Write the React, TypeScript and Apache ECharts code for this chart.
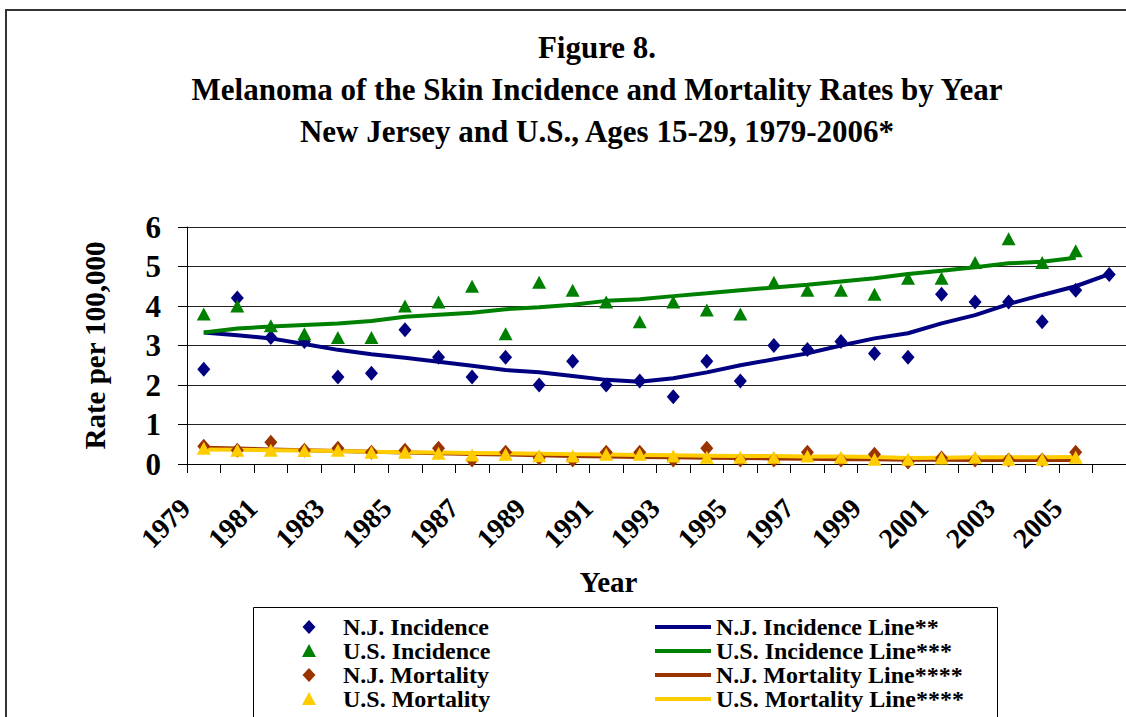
import React, { useEffect, useRef } from "react";
import * as echarts from "echarts";

const years = [
  "1979", "1980", "1981", "1982", "1983", "1984", "1985", "1986", "1987", "1988",
  "1989", "1990", "1991", "1992", "1993", "1994", "1995", "1996", "1997", "1998",
  "1999", "2000", "2001", "2002", "2003", "2004", "2005", "2006",
];

const yTicks = [0, 1, 2, 3, 4, 5, 6];

const njIncidence = [
  2.4, 4.2, 3.2, 3.1, 2.2, 2.3, 3.4, 2.7, 2.2, 2.7,
  2.0, 2.6, 2.0, 2.1, 1.7, 2.6, 2.1, 3.0, 2.9, 3.1,
  2.8, 2.7, 4.3, 4.1, 4.1, 3.6, 4.4, 4.8,
];
const usIncidence = [
  3.8, 4.0, 3.5, 3.3, 3.2, 3.2, 4.0, 4.1, 4.5, 3.3,
  4.6, 4.4, 4.1, 3.6, 4.1, 3.9, 3.8, 4.6, 4.4, 4.4,
  4.3, 4.7, 4.7, 5.1, 5.7, 5.1, 5.4, null,
];
const njMortality = [
  0.45, 0.35, 0.55, 0.35, 0.4, 0.3, 0.35, 0.4, 0.1, 0.3,
  0.15, 0.1, 0.3, 0.3, 0.1, 0.4, 0.1, 0.1, 0.3, 0.1,
  0.25, 0.05, 0.15, 0.1, 0.1, 0.1, 0.3, null,
];
const usMortality = [
  0.4, 0.35, 0.35, 0.34, 0.35, 0.3, 0.3, 0.27, 0.23, 0.25,
  0.21, 0.2, 0.25, 0.25, 0.2, 0.17, 0.17, 0.17, 0.2, 0.17,
  0.12, 0.12, 0.15, 0.17, 0.12, 0.12, 0.17, null,
];
const njIncidenceLine = [
  3.33, 3.26, 3.18, 3.04, 2.89, 2.78, 2.69, 2.59, 2.49, 2.38,
  2.32, 2.23, 2.13, 2.08, 2.17, 2.32, 2.5, 2.65, 2.8, 3.0,
  3.18, 3.31, 3.56, 3.77, 4.05, 4.28, 4.5, 4.81,
];
const usIncidenceLine = [
  3.33, 3.43, 3.48, 3.52, 3.56, 3.62, 3.73, 3.78, 3.83, 3.92,
  3.97, 4.03, 4.13, 4.17, 4.25, 4.32, 4.4, 4.47, 4.54, 4.62,
  4.7, 4.81, 4.89, 4.98, 5.08, 5.12, 5.22, null,
];
const njMortalityLine = [
  0.41, 0.39, 0.37, 0.35, 0.33, 0.31, 0.29, 0.27, 0.25, 0.24,
  0.22, 0.2, 0.19, 0.18, 0.17, 0.16, 0.15, 0.14, 0.13, 0.12,
  0.12, 0.11, 0.11, 0.1, 0.1, 0.1, 0.1, null,
];
const usMortalityLine = [
  0.37, 0.36, 0.35, 0.34, 0.33, 0.31, 0.3, 0.29, 0.28, 0.27,
  0.26, 0.25, 0.24, 0.23, 0.22, 0.21, 0.2, 0.2, 0.19, 0.19,
  0.18, 0.15, 0.16, 0.17, 0.17, 0.17, 0.18, null,
];

const titleLines = [
  "Figure 8.",
  "Melanoma of the Skin Incidence and Mortality Rates by Year",
  "New Jersey and U.S., Ages 15-29, 1979-2006*",
];

const markerLegend = ["N.J. Incidence", "U.S. Incidence", "N.J. Mortality", "U.S. Mortality"];
const lineLegend = [
  "N.J. Incidence Line**",
  "U.S. Incidence Line***",
  "N.J. Mortality Line****",
  "U.S. Mortality Line****",
];

const FONT = '"Liberation Serif", "Times New Roman", serif';
const NAVY = "#000080";
const GREEN = "#008000";
const BROWN = "#993300";
const YELLOW = "#FFCC00";
const colors = [NAVY, GREEN, BROWN, YELLOW];
const markerShapes = ["diamond", "triangle", "diamond", "triangle"];

function legendGraphics() {
  const rowY = [627, 651, 675, 699];
  const out: any[] = [];
  const textStyle = (t: string) => ({
    text: t,
    fontFamily: FONT,
    fontWeight: "bold",
    fontSize: 24,
    lineHeight: 24,
    fill: "#000",
    textVerticalAlign: "middle",
    textAlign: "left",
  });
  markerLegend.forEach((name, i) => {
    const y = rowY[i];
    const cx = 309;
    const pts =
      markerShapes[i] === "diamond"
        ? [[cx, y - 7], [cx + 6.5, y], [cx, y + 7], [cx - 6.5, y]]
        : [[cx, y - 7], [cx + 7, y + 6], [cx - 7, y + 6]];
    out.push({ type: "polygon", shape: { points: pts }, style: { fill: colors[i] }, silent: true });
    out.push({ type: "text", x: 343, y, style: textStyle(name), silent: true });
  });
  lineLegend.forEach((name, i) => {
    const y = rowY[i];
    out.push({
      type: "line",
      shape: { x1: 655, y1: y, x2: 711, y2: y },
      style: { stroke: colors[i], lineWidth: 4 },
      silent: true,
    });
    out.push({ type: "text", x: 716, y, style: textStyle(name), silent: true });
  });
  return out;
}

export default function App() {
  const ref = useRef<HTMLDivElement>(null);

  useEffect(() => {
    if (!ref.current) return;
    const chart = echarts.init(ref.current, null, { renderer: "svg" });

    const scatter = (name: string, data: any[], symbol: string, color: string, size: any, z: number) => ({
      name,
      type: "scatter",
      data,
      symbol,
      symbolSize: size,
      itemStyle: { color, opacity: 1 },
      z,
    });
    const line = (name: string, data: any[], color: string, z: number) => ({
      name,
      type: "line",
      data,
      symbol: "none",
      showSymbol: false,
      lineStyle: { color, width: 4 },
      itemStyle: { color },
      z,
    });

    chart.setOption({
      animation: false,
      backgroundColor: "#ffffff",
      textStyle: { fontFamily: FONT },
      graphic: [
        {
          type: "rect",
          shape: { x: 6, y: 10, width: 1300, height: 900 },
          style: { fill: "none", stroke: "#333", lineWidth: 2 },
          silent: true,
          z: -10,
        },
        {
          type: "rect",
          shape: { x: 253.5, y: 607.5, width: 744, height: 200 },
          style: { fill: "none", stroke: "#000", lineWidth: 1 },
          silent: true,
          z: -10,
        },
        ...titleLines.map((t, i) => ({
          type: "text",
          x: 597,
          y: 47 + i * 42,
          style: {
            text: t,
            fontFamily: FONT,
            fontWeight: "bold",
            fontSize: 31,
            fill: "#000",
            textAlign: "center",
            textVerticalAlign: "middle",
          },
        })),
        ...legendGraphics(),
      ],
      grid: { left: 187, right: -3, top: 227, bottom: 253, containLabel: false },
      xAxis: {
        type: "category",
        data: years,
        boundaryGap: true,
        name: "Year",
        nameLocation: "middle",
        nameGap: 103,
        nameTextStyle: {
          fontFamily: FONT,
          fontWeight: "bold",
          fontSize: 29,
          color: "#000",
          padding: [0, 96, 0, 0],
        },
        axisLine: { lineStyle: { color: "#000", width: 1 } },
        axisTick: { show: true, interval: 0, length: 9, lineStyle: { color: "#000" } },
        axisLabel: {
          interval: 1,
          rotate: 45,
          margin: 21,
          fontFamily: FONT,
          fontWeight: "bold",
          fontSize: 28,
          color: "#000",
          padding: [0, 26, 9, 0],
        },
        splitLine: { show: false },
      },
      yAxis: {
        type: "value",
        min: yTicks[0],
        max: yTicks[yTicks.length - 1],
        interval: 1,
        name: "Rate per 100,000",
        nameLocation: "middle",
        nameGap: 78,
        nameTextStyle: { fontFamily: FONT, fontWeight: "bold", fontSize: 29, color: "#000" },
        axisLine: { show: true, lineStyle: { color: "#000", width: 1 } },
        axisTick: { show: true, length: 9, lineStyle: { color: "#000" } },
        axisLabel: {
          margin: 26,
          fontFamily: FONT,
          fontWeight: "bold",
          fontSize: 31,
          color: "#000",
          padding: [6, 0, 0, 0],
        },
        splitLine: { show: true, lineStyle: { color: "#222", width: 1 } },
      },
      series: [
        line("N.J. Incidence Line**", njIncidenceLine, NAVY, 2),
        line("U.S. Incidence Line***", usIncidenceLine, GREEN, 2),
        line("N.J. Mortality Line****", njMortalityLine, BROWN, 2),
        line("U.S. Mortality Line****", usMortalityLine, YELLOW, 2),
        scatter("N.J. Incidence", njIncidence, "diamond", NAVY, [13, 15], 3),
        scatter("U.S. Incidence", usIncidence, "triangle", GREEN, [14, 13], 3),
        scatter("N.J. Mortality", njMortality, "diamond", BROWN, [13, 15], 3),
        scatter("U.S. Mortality", usMortality, "triangle", YELLOW, [14, 13], 4),
      ],
    });

    return () => chart.dispose();
  }, []);

  return (
    <div
      ref={ref}
      style={{ position: "absolute", left: 0, top: 0, width: 1126, height: 717 }}
    />
  );
}
